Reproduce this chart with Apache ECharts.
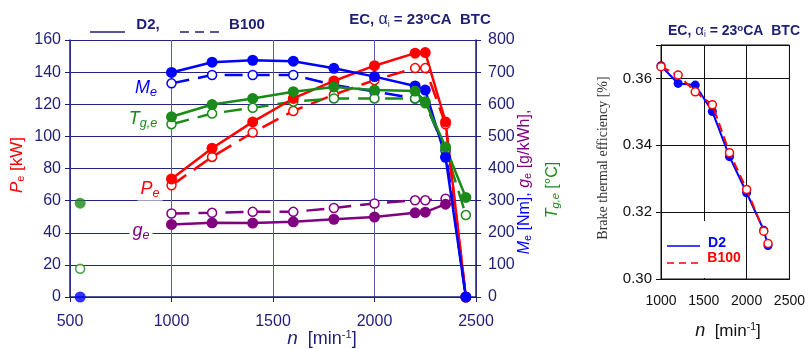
<!DOCTYPE html>
<html>
<head>
<meta charset="utf-8">
<script src="https://cdn.jsdelivr.net/npm/echarts@6/dist/echarts.min.js"></script>
<style>
  html, body { margin: 0; padding: 0; background: #fff; }
  #chart { width: 808px; height: 349px; }
</style>
</head>
<body>
<div id="chart"></div>
<script>
// engine speed points, min^-1
const speed = [1000, 1200, 1400, 1600, 1800, 2000, 2200, 2250, 2350, 2450];
const speedGe = [1000, 1200, 1400, 1600, 1800, 2000, 2200, 2250, 2350];

// effective power, kW (left axis)
const peD2   = [73.5, 92.6, 109, 123.6, 134.5, 144, 151.8, 152.2, 109, 0];
const peB100 = [69.5, 87.2, 102.4, 115.8, 126, 135, 142.5, 142.5, 107.5, 0];

// torque, Nm (right axis)
const meD2   = [699, 731, 737, 734, 712, 686, 657, 644, 435, 0];
const meB100 = [665, 691, 691, 691, 660, 640, 618, 605, 455, 0];

// exhaust gas temperature, degC (right axis)
const tgD2   = [561, 599, 618, 639, 654, 644, 641, 608, 467, 310];
const tgB100 = [538, 571, 589, 608, 618, 618, 618, 603, 460, 255];

// specific fuel consumption, g/kWh (right axis)
const geD2   = [226, 231, 230, 234, 242, 249, 262, 264, 289];
const geB100 = [260, 262, 265, 265, 277, 291, 301, 301, 306];

// idle points at 550 min^-1 (right axis)
const idleSpeed = 550;
const idleMeD2 = 0;
const idleTgD2 = 292;
const idleTgB100 = 88;

// brake thermal efficiency (right chart)
const speedEff = [1000, 1200, 1400, 1600, 1800, 2000, 2200, 2250];
const effD2   = [0.3638, 0.3585, 0.3580, 0.3501, 0.3366, 0.3258, 0.3146, 0.3100];
const effB100 = [0.3635, 0.3610, 0.3560, 0.3521, 0.3378, 0.3268, 0.3143, 0.3106];

const NAVY = '#1e1e78';
const RED = '#ff0000', BLUE = '#0000ff', GREEN = '#1a8a1a', PURPLE = '#800080';
const FONT = '"Liberation Sans", Arial, sans-serif';

function pairs(xs, ys) { return xs.map((x, i) => [x, ys[i]]); }

// solid = D2 (filled marks), dashed = B100 (open marks)
function curve(name, xs, ys, color, dashed, yAxisIndex, xAxisIndex, opts) {
  opts = opts || {};
  const lw = opts.lw || 2.5;
  return {
    name: name,
    type: 'line',
    xAxisIndex: xAxisIndex || 0,
    yAxisIndex: yAxisIndex,
    data: pairs(xs, ys),
    symbol: 'circle',
    symbolSize: dashed ? (opts.openSize || 9) : (opts.size || 11),
    showSymbol: true,
    animation: false,
    lineStyle: { color: color, width: lw, type: dashed ? (opts.dash || [18, 9]) : 'solid' },
    itemStyle: dashed
      ? { color: '#fff', borderColor: color, borderWidth: 1.5 }
      : { color: color, borderWidth: 0 },
    emphasis: { disabled: true },
    z: opts.z || 2
  };
}

function idle(name, y, color, open) {
  return {
    name: name, type: 'scatter', xAxisIndex: 0, yAxisIndex: 1,
    data: [[idleSpeed, y]], symbol: 'circle', symbolSize: open ? 9 : 11,
    itemStyle: open ? { color: '#fff', borderColor: color, borderWidth: 1.5 } : { color: color },
    animation: false, emphasis: { disabled: true }, z: 3
  };
}

const series = [
  curve('ge B100', speedGe, geB100, PURPLE, true, 1),
  curve('Pe B100', speed, peB100, RED, true, 0),
  curve('Me B100', speed, meB100, BLUE, true, 1),
  curve('Tg B100', speed, tgB100, GREEN, true, 1),
  curve('ge D2', speedGe, geD2, PURPLE, false, 1),
  curve('Pe D2', speed, peD2, RED, false, 0),
  curve('Me D2', speed, meD2, BLUE, false, 1),
  curve('Tg D2', speed, tgD2, GREEN, false, 1),
  idle('Tg idle B100', idleTgB100, GREEN, true),
  idle('Tg idle D2', idleTgD2, GREEN, false),
  idle('Me idle D2', idleMeD2, BLUE, false),
  curve('eff D2', speedEff, effD2, BLUE, false, 2, 1, { lw: 2, size: 9, z: 2 }),
  curve('eff B100', speedEff, effB100, RED, true, 2, 1, { lw: 2, openSize: 8, dash: [9, 5], z: 3 })
];

// rich title "EC, αi = 23°CA  BTC"
function titleText(size) {
  return {
    text: '{b|EC, }{a|α}{s|i}{b| = 23}{o|o}{b|CA  BTC}',
    fill: NAVY,
    rich: {
      b: { fontSize: size, fontWeight: 'bold', fontFamily: FONT },
      a: { fontSize: size + 1, fontFamily: FONT },
      s: { fontSize: size * 0.6, fontFamily: FONT, verticalAlign: 'bottom', padding: [size * 0.5, 0, 0, 0] },
      o: { fontSize: size * 0.7, fontWeight: 'bold', fontFamily: FONT, verticalAlign: 'top', padding: [0, 0, size * 0.45, 0] }
    }
  };
}

function speedName(size, fill) {
  return {
    text: '{i|n}{t|  [min}{p|-1}{t|]}',
    fill: fill,
    rich: {
      i: { fontSize: size + 1, fontStyle: 'italic', fontFamily: FONT },
      t: { fontSize: size, fontFamily: FONT },
      p: { fontSize: size * 0.62, fontFamily: FONT, verticalAlign: 'top', padding: [0, 0, size * 0.5, 0] }
    }
  };
}

function subLabel(main, sub, color, size) {
  return {
    text: '{m|' + main + '}{s|' + sub + '}',
    fill: color,
    backgroundColor: '#fff',
    padding: [1, 3],
    rich: {
      m: { fontSize: size, fontStyle: 'italic', fontFamily: FONT },
      s: { fontSize: size * 0.7, fontStyle: 'italic', fontFamily: FONT, verticalAlign: 'bottom', padding: [size * 0.45, 0, 0, 0] }
    }
  };
}

function place(x, y, style, extra) {
  return Object.assign({ type: 'text', x: x, y: y, z: 10, silent: true,
    style: Object.assign({ align: 'center', verticalAlign: 'middle' }, style) }, extra || {});
}

const graphics = [
  // left chart title and line-style legend
  place(420, 20, titleText(15)),
  { type: 'line', shape: { x1: 90, y1: 32, x2: 125, y2: 32 }, style: { stroke: NAVY, lineWidth: 1.5 }, silent: true },
  place(148, 25, { text: 'D2,', fill: NAVY, font: 'bold 15px ' + FONT }),
  { type: 'line', shape: { x1: 180, y1: 32, x2: 220, y2: 32 }, style: { stroke: NAVY, lineWidth: 1.5, lineDash: [9, 6] }, silent: true },
  place(247, 25, { text: 'B100', fill: NAVY, font: 'bold 15px ' + FONT }),

  // axis names, left chart
  place(17, 165, {
    text: '{m|P}{s|e}{t| [kW]}', fill: RED,
    rich: {
      m: { fontSize: 17, fontStyle: 'italic', fontFamily: FONT },
      s: { fontSize: 11, fontFamily: FONT, verticalAlign: 'bottom', padding: [7, 0, 0, 0] },
      t: { fontSize: 17, fontFamily: FONT }
    }
  }, { rotation: Math.PI / 2 }),
  place(525, 182, {
    text: '{m|M}{ms|e}{t| [Nm], }{g|g}{gs|e}{u| [g/kWh],}',
    rich: {
      m: { fill: BLUE, fontSize: 16, fontStyle: 'italic', fontFamily: FONT },
      ms: { fill: BLUE, fontSize: 11, fontFamily: FONT, verticalAlign: 'bottom', padding: [6, 0, 0, 0] },
      t: { fill: BLUE, fontSize: 16, fontFamily: FONT },
      g: { fill: PURPLE, fontSize: 16, fontStyle: 'italic', fontFamily: FONT },
      gs: { fill: PURPLE, fontSize: 11, fontFamily: FONT, verticalAlign: 'bottom', padding: [6, 0, 0, 0] },
      u: { fill: PURPLE, fontSize: 16, fontFamily: FONT }
    }
  }, { rotation: Math.PI / 2 }),
  place(553, 190, {
    text: '{m|T}{s|g,e}{t| [°C]}', fill: GREEN,
    rich: {
      m: { fontSize: 16, fontStyle: 'italic', fontFamily: FONT },
      s: { fontSize: 11, fontStyle: 'italic', fontFamily: FONT, verticalAlign: 'bottom', padding: [6, 0, 0, 0] },
      t: { fontSize: 16, fontFamily: FONT }
    }
  }, { rotation: Math.PI / 2 }),
  place(322, 339, speedName(18, NAVY)),

  // curve labels inside the left chart
  place(146, 88, subLabel('M', 'e', BLUE, 18)),
  place(143, 119, subLabel('T', 'g,e', GREEN, 18)),
  place(150, 189, subLabel('P', 'e', RED, 18)),
  place(141, 231, subLabel('g', 'e', PURPLE, 18)),

  // right chart
  place(734, 31, titleText(14)),
  place(603, 158, { text: 'Brake thermal efficiency [%]', fill: '#333', font: '14px "Liberation Serif", "Times New Roman", serif' }, { rotation: Math.PI / 2 }),
  place(728, 331, speedName(17, '#111')),
  { type: 'rect', shape: { x: 662, y: 221, width: 84, height: 57 }, style: { fill: '#fff' }, z: 5, silent: true },
  { type: 'line', shape: { x1: 667, y1: 246, x2: 700, y2: 246 }, style: { stroke: BLUE, lineWidth: 1.5 }, z: 6, silent: true },
  place(717, 243, { text: 'D2', fill: BLUE, font: 'bold 14px ' + FONT }, { z: 6 }),
  { type: 'line', shape: { x1: 667, y1: 263, x2: 700, y2: 263 }, style: { stroke: RED, lineWidth: 1.5, lineDash: [7, 5] }, z: 6, silent: true },
  place(724, 258, { text: 'B100', fill: RED, font: 'bold 14px ' + FONT }, { z: 6 })
];

const navyAxis = { lineStyle: { color: NAVY, width: 1.5 } };
const navyLabel = { color: NAVY, fontSize: 16, fontFamily: FONT };
const plain = v => String(v);

const option = {
  backgroundColor: '#fff',
  animation: false,
  grid: [
    { left: 70, top: 40, width: 406, height: 257 },
    { left: 661, top: 45, width: 130, height: 234, show: true, borderColor: '#111', borderWidth: 1, backgroundColor: 'transparent' }
  ],
  xAxis: [
    {
      gridIndex: 0, type: 'value', min: 500, max: 2500, interval: 500,
      axisLine: navyAxis, axisTick: { length: 5, lineStyle: { color: NAVY } },
      axisLabel: Object.assign({ margin: 17, formatter: plain }, navyLabel),
      splitLine: { show: true, lineStyle: { color: '#5c5cae', width: 1 } }
    },
    {
      gridIndex: 1, type: 'value', min: 1000, max: 2500, interval: 500,
      axisLine: { lineStyle: { color: '#111', width: 1 } },
      axisTick: { inside: true, length: 4, lineStyle: { color: '#111' } },
      axisLabel: { color: '#111', fontSize: 14, fontFamily: FONT, margin: 15, formatter: plain },
      splitLine: { show: true, lineStyle: { color: '#111', width: 1 } }
    }
  ],
  yAxis: [
    {
      gridIndex: 0, type: 'value', position: 'left', min: 0, max: 160, interval: 20,
      axisLine: { show: true, lineStyle: { color: NAVY, width: 1.5 } },
      axisTick: { show: true, length: 5, lineStyle: { color: NAVY } },
      axisLabel: Object.assign({ margin: 9 }, navyLabel),
      splitLine: { show: true, lineStyle: { color: '#24247e', width: 1 } }
    },
    {
      gridIndex: 0, type: 'value', position: 'right', min: 0, max: 800, interval: 100,
      axisLine: { show: true, lineStyle: { color: NAVY, width: 1.5 } },
      axisTick: { show: true, length: 5, lineStyle: { color: NAVY } },
      axisLabel: Object.assign({ margin: 12 }, navyLabel),
      splitLine: { show: false }
    },
    {
      gridIndex: 1, type: 'value', min: 0.30, max: 0.37, interval: 0.02,
      axisLine: { show: true, lineStyle: { color: '#111', width: 1 } },
      axisTick: { show: true, length: 5, lineStyle: { color: '#111' } },
      axisLabel: {
        color: '#111', fontSize: 15, fontFamily: FONT, margin: 9,
        formatter: v => (v > 0.365 ? '' : v.toFixed(2))
      },
      splitLine: { show: true, lineStyle: { color: '#111', width: 1 } }
    }
  ],
  series: series,
  graphic: graphics
};

const chart = echarts.init(document.getElementById('chart'), null, { renderer: 'canvas' });
chart.setOption(option);
</script>
</body>
</html>
